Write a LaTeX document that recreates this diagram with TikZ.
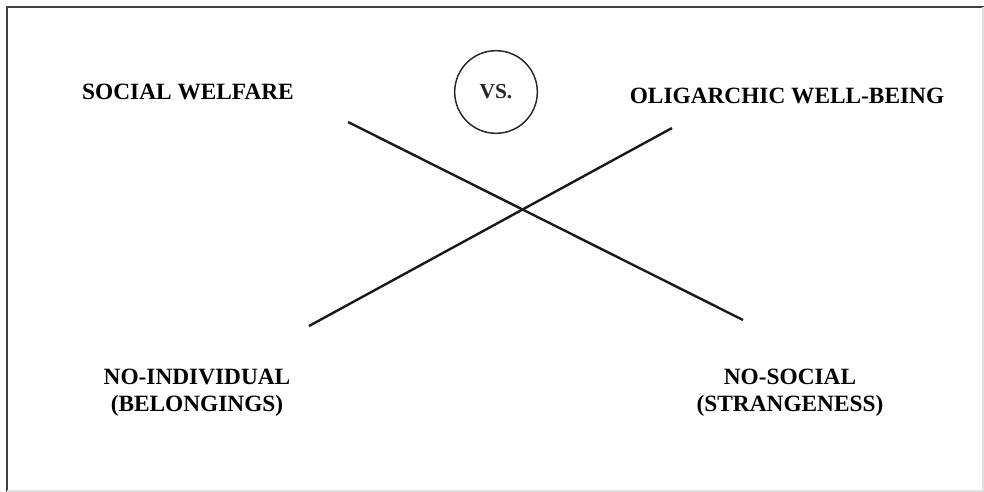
\documentclass[tikz,border=0pt]{standalone}
\usepackage{fontspec}
\setmainfont{Liberation Serif}
\begin{document}
\begin{tikzpicture}[x=0.75pt,y=-0.75pt,
  lbl/.style={font=\bfseries\fontsize{17.5}{20.3}\selectfont, align=center, inner sep=0pt},
  xline/.style={line width=1.8pt, black!90}]
\useasboundingbox (0,0) rectangle (984,492);
% frame
\draw[line width=1.5pt, black!75] (7,492) -- (7,7) -- (984,7);
\draw[line width=0.8pt, black!12] (983,7) -- (983,491) -- (7,491);
% labels
\node[lbl] (sw) at (188,92) {SOCIAL WELFARE};
\node[lbl] (ow) at (787,96) {OLIGARCHIC WELL-BEING};
\node[lbl] (ni) at (197,393) {NO-INDIVIDUAL\\(BELONGINGS)};
\node[lbl] (ns) at (790,393) {NO-SOCIAL\\(STRANGENESS)};
\node[circle, draw, line width=1.1pt, black!85, minimum size=62pt, inner sep=0pt,
      font=\bfseries\fontsize{16}{18}\selectfont] (vs) at (496,92) {VS.};
% cross
\coordinate (a1) at (348,122);
\coordinate (a2) at (743,320);
\coordinate (b1) at (309,326);
\coordinate (b2) at (672,128);
\draw[xline] (a1) -- (a2);
\draw[xline] (b1) -- (b2);
\end{tikzpicture}
\end{document}
